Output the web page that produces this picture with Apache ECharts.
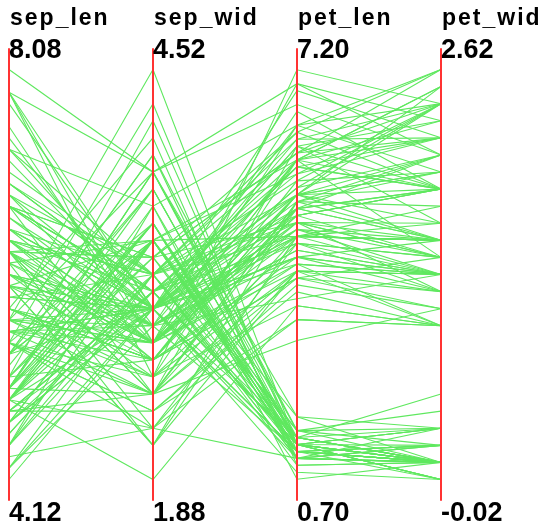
<!DOCTYPE html>
<html>
<head>
<meta charset="utf-8">
<script src="https://cdn.jsdelivr.net/npm/echarts@6/dist/echarts.min.js"></script>
<style>html,body{margin:0;padding:0;background:#fff;}#c{width:545px;height:527px;}</style>
</head>
<body>
<div id="c"></div>
<script>
// Column names and axis extents / tick labels
var dimNames = ['sep_len', 'sep_wid', 'pet_len', 'pet_wid'];
var axisMin = [4.12, 1.88, 0.70, -0.02];
var axisMax = [8.08, 4.52, 7.20, 2.62];
var minLabels = ['4.12', '1.88', '0.70', '-0.02'];
var maxLabels = ['8.08', '4.52', '7.20', '2.62'];

// Values (150 records)
var sepLen = [5.1,4.9,4.7,4.6,5.0,5.4,4.6,5.0,4.4,4.9,5.4,4.8,4.8,4.3,5.8,5.7,5.4,5.1,5.7,5.1,5.4,5.1,4.6,5.1,4.8,5.0,5.0,5.2,5.2,4.7,4.8,5.4,5.2,5.5,4.9,5.0,5.5,4.9,4.4,5.1,5.0,4.5,4.4,5.0,5.1,4.8,5.1,4.6,5.3,5.0,
7.0,6.4,6.9,5.5,6.5,5.7,6.3,4.9,6.6,5.2,5.0,5.9,6.0,6.1,5.6,6.7,5.6,5.8,6.2,5.6,5.9,6.1,6.3,6.1,6.4,6.6,6.8,6.7,6.0,5.7,5.5,5.5,5.8,6.0,5.4,6.0,6.7,6.3,5.6,5.5,5.5,6.1,5.8,5.0,5.6,5.7,5.7,6.2,5.1,5.7,
6.3,5.8,7.1,6.3,6.5,7.6,4.9,7.3,6.7,7.2,6.5,6.4,6.8,5.7,5.8,6.4,6.5,7.7,7.7,6.0,6.9,5.6,7.7,6.3,6.7,7.2,6.2,6.1,6.4,7.2,7.4,7.9,6.4,6.3,6.1,7.7,6.3,6.4,6.0,6.9,6.7,6.9,5.8,6.8,6.7,6.7,6.3,6.5,6.2,5.9];
var sepWid = [3.5,3.0,3.2,3.1,3.6,3.9,3.4,3.4,2.9,3.1,3.7,3.4,3.0,3.0,4.0,4.4,3.9,3.5,3.8,3.8,3.4,3.7,3.6,3.3,3.4,3.0,3.4,3.5,3.4,3.2,3.1,3.4,4.1,4.2,3.1,3.2,3.5,3.1,3.0,3.4,3.5,2.3,3.2,3.5,3.8,3.0,3.8,3.2,3.7,3.3,
3.2,3.2,3.1,2.3,2.8,2.8,3.3,2.4,2.9,2.7,2.0,3.0,2.2,2.9,2.9,3.1,3.0,2.7,2.2,2.5,3.2,2.8,2.5,2.8,2.9,3.0,2.8,3.0,2.9,2.6,2.4,2.4,2.7,2.7,3.0,3.4,3.1,2.3,3.0,2.5,2.6,3.0,2.6,2.3,2.7,3.0,2.9,2.9,2.5,2.8,
3.3,2.7,3.0,2.9,3.0,3.0,2.5,2.9,2.5,3.6,3.2,2.7,3.0,2.5,2.8,3.2,3.0,3.8,2.6,2.2,3.2,2.8,2.8,2.7,3.3,3.2,2.8,3.0,2.8,3.0,2.8,3.8,2.8,2.8,2.6,3.0,3.4,3.1,3.0,3.1,3.1,3.1,2.7,3.2,3.3,3.0,2.5,3.0,3.4,3.0];
var petLen = [1.4,1.4,1.3,1.5,1.4,1.7,1.4,1.5,1.4,1.5,1.5,1.6,1.4,1.1,1.2,1.5,1.3,1.4,1.7,1.5,1.7,1.5,1.0,1.7,1.9,1.6,1.6,1.5,1.4,1.6,1.6,1.5,1.5,1.4,1.5,1.2,1.3,1.5,1.3,1.5,1.3,1.3,1.3,1.6,1.9,1.4,1.6,1.4,1.5,1.4,
4.7,4.5,4.9,4.0,4.6,4.5,4.7,3.3,4.6,3.9,3.5,4.2,4.0,4.7,3.6,4.4,4.5,4.1,4.5,3.9,4.8,4.0,4.9,4.7,4.3,4.4,4.8,5.0,4.5,3.5,3.8,3.7,3.9,5.1,4.5,4.5,4.7,4.4,4.1,4.0,4.4,4.6,4.0,3.3,4.2,4.2,4.2,4.3,3.0,4.1,
6.0,5.1,5.9,5.6,5.8,6.6,4.5,6.3,5.8,6.1,5.1,5.3,5.5,5.0,5.1,5.3,5.5,6.7,6.9,5.0,5.7,4.9,6.7,4.9,5.7,6.0,4.8,4.9,5.6,5.8,6.1,6.4,5.6,5.1,5.6,6.1,5.6,5.5,4.8,5.4,5.6,5.1,5.1,5.9,5.7,5.2,5.0,5.2,5.4,5.1];
var petWid = [0.2,0.2,0.2,0.2,0.2,0.4,0.3,0.2,0.2,0.1,0.2,0.2,0.1,0.1,0.2,0.4,0.4,0.3,0.3,0.3,0.2,0.4,0.2,0.5,0.2,0.2,0.4,0.2,0.2,0.2,0.2,0.4,0.1,0.2,0.1,0.2,0.2,0.1,0.2,0.2,0.3,0.3,0.2,0.6,0.4,0.3,0.2,0.2,0.2,0.2,
1.4,1.5,1.5,1.3,1.5,1.3,1.6,1.0,1.3,1.4,1.0,1.5,1.0,1.4,1.3,1.4,1.5,1.0,1.5,1.1,1.8,1.3,1.5,1.2,1.3,1.4,1.4,1.7,1.5,1.0,1.1,1.0,1.2,1.6,1.5,1.6,1.5,1.3,1.3,1.3,1.2,1.4,1.2,1.0,1.3,1.2,1.3,1.3,1.1,1.3,
2.5,1.9,2.1,1.8,2.2,2.1,1.7,1.8,1.8,2.5,2.0,1.9,2.1,2.0,2.4,2.3,1.8,2.2,2.3,1.5,2.3,2.0,2.0,1.8,2.1,1.8,1.8,1.8,2.1,1.6,1.9,2.0,2.2,1.5,1.4,2.3,2.4,1.8,1.8,2.1,2.4,2.3,1.9,2.3,2.5,2.3,1.9,2.0,2.3,1.8];

var rows = sepLen.map(function (v, i) { return [v, sepWid[i], petLen[i], petWid[i]]; });

function spaced(s) {
  return s.split('').map(function (ch) { return '{c|' + ch + '}'; }).join('');
}

var axes = dimNames.map(function (nm, i) {
  return {
    dim: i,
    name: spaced(nm),
    nameLocation: 'end',
    nameGap: 30,
    nameTextStyle: {
      align: 'left',
      verticalAlign: 'middle',
      rich: {
        c: { fontFamily: 'Liberation Sans', fontWeight: 'bold', fontSize: 23, color: '#000', padding: [0, 1.0, 0, 1.0] }
      }
    },
    min: axisMin[i],
    max: axisMax[i],
    z: 10,
    axisLine: { show: true, lineStyle: { color: '#ff3333', width: 2 } },
    axisTick: { show: false },
    splitLine: { show: false },
    axisLabel: {
      show: true,
      inside: true,
      margin: 0,
      align: 'left',
      verticalAlign: 'middle',
      customValues: [axisMin[i], axisMax[i]],
      formatter: function (v) {
        if (Math.abs(v - axisMin[i]) < 1e-6) return '{b|' + minLabels[i] + '}';
        if (Math.abs(v - axisMax[i]) < 1e-6) return '{t|' + maxLabels[i] + '}';
        return '';
      },
      rich: {
        t: { fontFamily: 'Liberation Sans', fontWeight: 'bold', fontSize: 27, color: '#000', padding: [4, 0, 0, 0] },
        b: { fontFamily: 'Liberation Sans', fontWeight: 'bold', fontSize: 27, color: '#000', padding: [28, 0, 0, 0] }
      }
    }
  };
});

var chart = echarts.init(document.getElementById('c'), null, { renderer: 'canvas' });
chart.setOption({
  animation: false,
  backgroundColor: '#fff',
  parallel: {
    left: 9, right: 104, top: 49, bottom: 27,
    z: 10,
    parallelAxisDefault: { type: 'value' }
  },
  parallelAxis: axes,
  series: [{
    type: 'parallel',
    z: 1,
    silent: true,
    smooth: false,
    lineStyle: { color: '#5fe85f', width: 1.1, opacity: 1 },
    emphasis: { disabled: true },
    data: rows
  }]
});
</script>
</body>
</html>
